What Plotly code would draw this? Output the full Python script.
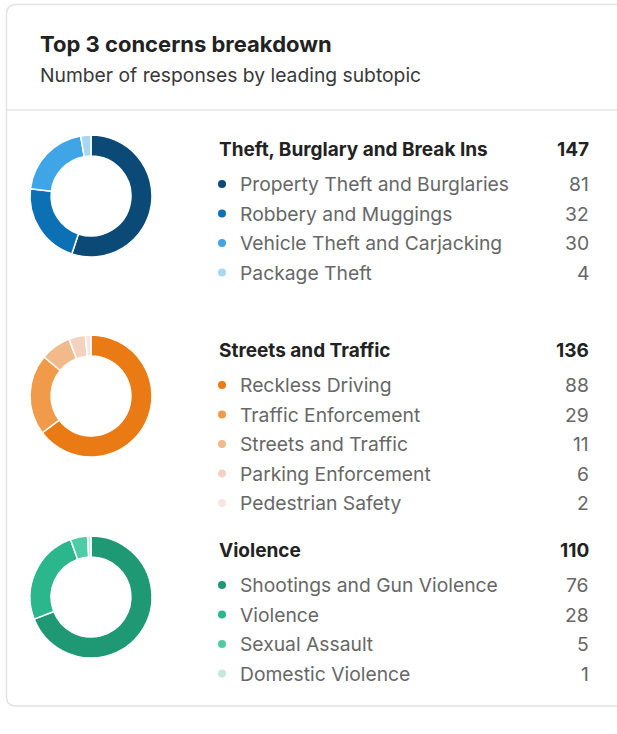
import plotly.graph_objects as go

W, H = 617, 734

title = "Top 3 concerns breakdown"
subtitle = "Number of responses by leading subtopic"

groups = ["Theft, Burglary and Break Ins", "Streets and Traffic", "Violence"]
group_totals = [147, 136, 110]

theft_labels = ["Property Theft and Burglaries", "Robbery and Muggings",
                "Vehicle Theft and Carjacking", "Package Theft"]
theft_values = [81, 32, 30, 4]
theft_colors = ["#0b4a76", "#0c70b4", "#3fa5e6", "#a8d7f3"]

traffic_labels = ["Reckless Driving", "Traffic Enforcement", "Streets and Traffic",
                  "Parking Enforcement", "Pedestrian Safety"]
traffic_values = [88, 29, 11, 6, 2]
traffic_colors = ["#ea7a14", "#f09a4a", "#f2b98a", "#f5d2bf", "#f7e6e0"]

violence_labels = ["Shootings and Gun Violence", "Violence", "Sexual Assault",
                   "Domestic Violence"]
violence_values = [76, 28, 5, 1]
violence_colors = ["#1f9874", "#2bb68c", "#4ecda5", "#c4e8dc"]

subs = [
    (theft_labels, theft_values, theft_colors),
    (traffic_labels, traffic_values, traffic_colors),
    (violence_labels, violence_values, violence_colors),
]

# layout constants (window pixels)
block_tops = [149, 350, 550]
donut_cy = [196, 396, 597]
donut_cx = 91
donut_r = 61
item_gap = 29.5
header_to_first = 35
text_x = 238
dot_x = 222
header_x = 217
value_x = 591

FONT = "Inter, 'Open Sans', sans-serif"


def px_x(x):
    return x / W


def px_y(y):
    return 1 - y / H


fig = go.Figure()

for i, (labels, values, colors) in enumerate(subs):
    cy = donut_cy[i]
    fig.add_trace(go.Pie(
        labels=labels, values=values, sort=False, direction="clockwise",
        rotation=0, hole=0.655, textinfo="none", showlegend=False,
        marker=dict(colors=colors, line=dict(color="white", width=1.5)),
        domain=dict(x=[px_x(donut_cx - donut_r), px_x(donut_cx + donut_r)],
                    y=[px_y(cy + donut_r), px_y(cy - donut_r)]),
        hoverinfo="label+value",
    ))

    ys = [block_tops[i] + header_to_first + k * item_gap for k in range(len(labels))]
    fig.add_trace(go.Scatter(
        x=[dot_x] * len(labels), y=ys, mode="markers",
        marker=dict(color=colors, size=8), showlegend=False, hoverinfo="skip",
        xaxis="x", yaxis="y",
    ))

    fig.add_annotation(x=header_x, y=block_tops[i], xref="x", yref="y",
                       text="<b>%s</b>" % groups[i], showarrow=False,
                       xanchor="left", yanchor="middle",
                       font=dict(family=FONT, size=19, color="#222222"))
    fig.add_annotation(x=value_x, y=block_tops[i], xref="x", yref="y",
                       text="<b>%d</b>" % group_totals[i], showarrow=False,
                       xanchor="right", yanchor="middle",
                       font=dict(family=FONT, size=19, color="#222222"))
    for lab, val, y in zip(labels, values, ys):
        fig.add_annotation(x=text_x, y=y, xref="x", yref="y", text=lab,
                           showarrow=False, xanchor="left", yanchor="middle",
                           font=dict(family=FONT, size=19.3, color="#676767"))
        fig.add_annotation(x=value_x, y=y, xref="x", yref="y", text=str(val),
                           showarrow=False, xanchor="right", yanchor="middle",
                           font=dict(family=FONT, size=19.3, color="#676767"))

fig.add_annotation(x=38, y=44, xref="x", yref="y", text="<b>%s</b>" % title,
                   showarrow=False, xanchor="left", yanchor="middle",
                   font=dict(family=FONT, size=22, color="#222222"))
fig.add_annotation(x=38, y=75, xref="x", yref="y", text=subtitle,
                   showarrow=False, xanchor="left", yanchor="middle",
                   font=dict(family=FONT, size=19.3, color="#383838"))

fig.add_shape(type="path", xref="x", yref="y",
              path="M 6.5 14 Q 6.5 4.5 16 4.5 L 640 4.5 L 640 706 L 16 706 Q 6.5 706 6.5 697 Z",
              line=dict(color="#e2e2e2", width=1.5), fillcolor="rgba(0,0,0,0)",
              layer="below")
fig.add_shape(type="line", xref="x", yref="y", x0=6.5, x1=640, y0=110, y1=110,
              line=dict(color="#e6e6e6", width=1.5), layer="below")

fig.update_layout(
    width=W, height=H, margin=dict(l=0, r=0, t=0, b=0),
    paper_bgcolor="white", plot_bgcolor="white",
    xaxis=dict(range=[0, W], visible=False, fixedrange=True, domain=[0, 1]),
    yaxis=dict(range=[H, 0], visible=False, fixedrange=True, domain=[0, 1]),
    showlegend=False,
)

fig.write_html("out.html", config={"displayModeBar": False},
               post_script="document.body.style.margin='0';document.body.style.overflow='hidden';")
